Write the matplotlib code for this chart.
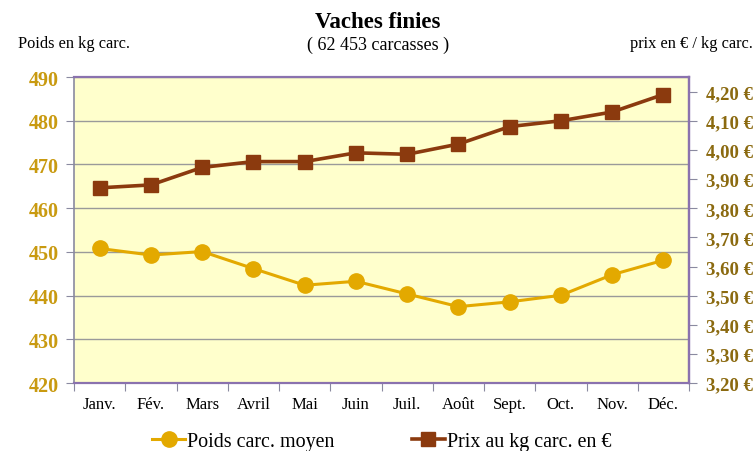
import numpy as np
import matplotlib.pyplot as plt
from matplotlib.ticker import FixedLocator, FuncFormatter

plt.rcParams['font.family'] = ['Liberation Serif', 'DejaVu Serif']

# data
mois = ['Janv.', 'Fév.', 'Mars', 'Avril', 'Mai', 'Juin',
        'Juil.', 'Août', 'Sept.', 'Oct.', 'Nov.', 'Déc.']
poids = [450.8, 449.3, 450.1, 446.2, 442.4, 443.3,
         440.4, 437.5, 438.6, 440.1, 444.8, 448.1]
prix = [3.87, 3.88, 3.94, 3.96, 3.96, 3.99,
        3.985, 4.02, 4.08, 4.10, 4.13, 4.19]
poids_ticks = [420, 430, 440, 450, 460, 470, 480, 490]
prix_ticks = [3.2, 3.3, 3.4, 3.5, 3.6, 3.7, 3.8, 3.9, 4.0, 4.1, 4.2]

gold = '#E3A900'
brown = '#8B3A0E'
border = '#8A72AE'

fig = plt.figure(figsize=(7.56, 4.52), dpi=100)
ax = fig.add_axes([0.098, 0.150, 0.8134, 0.6774])
ax.set_facecolor('#FFFFCC')
x = np.arange(len(mois))

ax.plot(x, poids, color=gold, lw=2.2, marker='o', ms=11, label='Poids carc. moyen', zorder=3)
ax.set_xlim(-0.5, len(mois) - 0.5)
ax.set_ylim(420, 490)
ax.set_yticks(poids_ticks)
ax.grid(axis='y', color='#9A9A9A', lw=1)
ax.set_axisbelow(True)
for lab in ax.get_yticklabels():
    lab.set_color('#C99A10')
    lab.set_fontweight('bold')
    lab.set_fontsize(14.5)
ax.tick_params(axis='y', length=6, color='#8A8AA0', pad=5)

# category labels centred, ticks on boundaries
ax.xaxis.set_major_locator(FixedLocator(np.arange(-0.5, len(mois), 1)))
ax.xaxis.set_minor_locator(FixedLocator(x))
ax.set_xticklabels([''] * (len(mois) + 1))
ax.set_xticklabels(mois, minor=True, fontsize=12)
ax.tick_params(axis='x', which='major', length=6, color='#8A8AA0')
ax.tick_params(axis='x', which='minor', length=0, pad=9)

for side in ['top', 'right', 'bottom']:
    ax.spines[side].set_color(border)
    ax.spines[side].set_linewidth(1.6)
ax.spines['left'].set_color('#8A8AA0')
ax.spines['left'].set_linewidth(1.2)

ax2 = ax.twinx()
ax2.plot(x, prix, color=brown, lw=2.6, marker='s', ms=10, label='Prix au kg carc. en €', zorder=3)
ax2.set_ylim(3.2, 4.25)
ax2.set_yticks(prix_ticks)
ax2.yaxis.set_major_formatter(FuncFormatter(lambda v, p: f'{v:.2f} €'.replace('.', ',')))
for lab in ax2.get_yticklabels():
    lab.set_color('#8B6A10')
    lab.set_fontweight('bold')
    lab.set_fontsize(13.5)
ax2.tick_params(axis='y', length=6, color='#8A8AA0', pad=6)
ax2.spines['right'].set_color(border)
ax2.spines['right'].set_linewidth(1.6)
ax2.spines['top'].set_visible(False)
ax2.spines['left'].set_visible(False)
ax2.spines['bottom'].set_visible(False)

fig.text(0.5, 0.950, 'Vaches finies', ha='center', va='center', fontsize=16.5, fontweight='bold')
fig.text(0.5, 0.900, '( 62 453 carcasses )', ha='center', va='center', fontsize=13)
fig.text(0.024, 0.902, 'Poids en kg carc.', ha='left', va='center', fontsize=11.8)
fig.text(0.996, 0.902, 'prix en € / kg carc.', ha='right', va='center', fontsize=11.8)

h1, l1 = ax.get_legend_handles_labels()
h2, l2 = ax2.get_legend_handles_labels()
fig.legend(h1 + h2, l1 + l2, loc='center', bbox_to_anchor=(0.505, 0.022), ncol=2,
           frameon=False, fontsize=14.4, columnspacing=3.85, handlelength=1.65,
           handletextpad=0.1)

fig.savefig('out.png', dpi=100)
